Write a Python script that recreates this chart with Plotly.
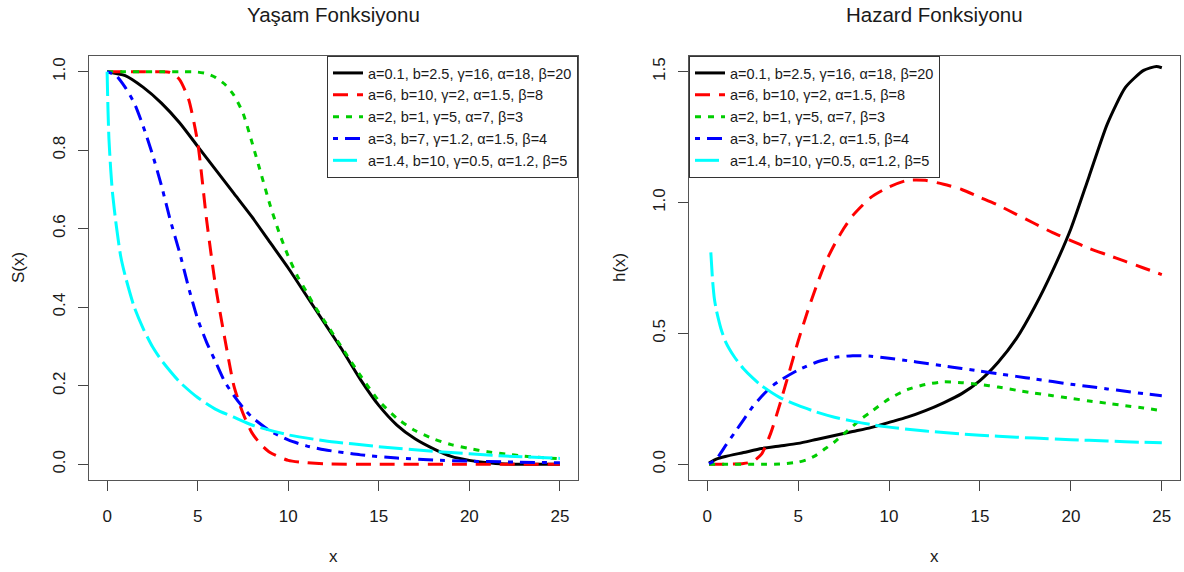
import plotly.graph_objects as go

# ---------------- data ----------------
names = [
    "a=0.1, b=2.5, γ=16, α=18, β=20",
    "a=6, b=10, γ=2, α=1.5, β=8",
    "a=2, b=1, γ=5, α=7, β=3",
    "a=3, b=7, γ=1.2, α=1.5, β=4",
    "a=1.4, b=10, γ=0.5, α=1.2, β=5",
]
colors = ["#000000", "#FF0000", "#00CD00", "#0000FF", "#00FFFF"]
dashes = ["solid", "15px,9px", "6px,7px", "5px,7px,15px,7px", "24px,6px"]

# Survival functions S(x)
s1_x = [0, 1, 2, 3, 4, 5, 6, 7, 8, 9, 10, 11, 12, 13, 14, 15, 16, 17, 18, 19, 20, 21, 22, 23, 25]
s1_y = [1.0, 0.99, 0.96, 0.92, 0.87, 0.81, 0.75, 0.69, 0.63, 0.565, 0.5, 0.43, 0.36, 0.29, 0.215,
        0.15, 0.1, 0.065, 0.04, 0.02, 0.01, 0.004, 0.001, 0.0, 0.0]

s2_x = [0, 1, 2, 3, 3.5, 4, 4.5, 5, 5.5, 6, 6.5, 7, 7.5, 8, 8.5, 9, 10, 11, 12, 15, 20, 25]
s2_y = [1.0, 1.0, 1.0, 1.0, 0.998, 0.98, 0.93, 0.82, 0.62, 0.45, 0.32, 0.2, 0.13, 0.08, 0.05,
        0.03, 0.01, 0.004, 0.001, 0.0, 0.0, 0.0]

s3_x = [0, 1, 2, 3, 4, 5, 5.5, 6, 6.5, 7, 7.5, 8, 8.5, 9, 9.5, 10, 10.5, 11, 11.5, 12, 13, 14, 15,
        16, 17, 18, 19, 20, 21, 22, 23, 24, 25]
s3_y = [1.0, 1.0, 1.0, 1.0, 1.0, 0.999, 0.995, 0.985, 0.968, 0.94, 0.895, 0.82, 0.74, 0.66, 0.59,
        0.53, 0.48, 0.44, 0.4, 0.365, 0.295, 0.225, 0.162, 0.117, 0.086, 0.065, 0.05, 0.04, 0.032,
        0.026, 0.021, 0.017, 0.014]

s4_x = [0, 0.5, 1, 1.5, 2, 2.5, 3, 3.5, 4, 4.5, 5, 5.5, 6, 6.5, 7, 7.5, 8, 9, 10, 11, 12, 14, 16,
        18, 20, 22, 25]
s4_y = [1.0, 0.99, 0.96, 0.92, 0.86, 0.79, 0.71, 0.62, 0.54, 0.45, 0.37, 0.31, 0.26, 0.21, 0.175,
        0.145, 0.12, 0.085, 0.062, 0.047, 0.037, 0.024, 0.016, 0.011, 0.008, 0.006, 0.004]

s5_x = [0, 0.05, 0.1, 0.2, 0.3, 0.5, 0.75, 1, 1.5, 2, 2.5, 3, 4, 5, 6, 7, 8, 10, 12, 15, 18, 20, 22, 25]
s5_y = [1.0, 0.9, 0.83, 0.75, 0.69, 0.61, 0.53, 0.48, 0.4, 0.345, 0.3, 0.265, 0.21, 0.17, 0.14,
        0.12, 0.1, 0.075, 0.06, 0.045, 0.033, 0.027, 0.021, 0.015]

# Hazard functions h(x)
h1_x = [0.1, 0.5, 1, 2, 3, 4, 5, 6, 7, 8, 9, 10, 11, 12, 13, 14, 15, 16, 17, 18, 19, 20, 21, 22,
        23, 24, 24.7, 25]
h1_y = [0.005, 0.02, 0.03, 0.045, 0.06, 0.07, 0.08, 0.095, 0.11, 0.125, 0.14, 0.16, 0.18, 0.205,
        0.235, 0.27, 0.32, 0.39, 0.48, 0.6, 0.74, 0.9, 1.1, 1.3, 1.44, 1.505, 1.52, 1.515]

h2_x = [0.1, 1, 2, 2.5, 3, 3.5, 4, 4.5, 5, 5.5, 6, 6.5, 7, 7.5, 8, 9, 10, 11, 12, 13, 14, 15, 16,
        17, 18, 19, 20, 21, 22, 23, 24, 25]
h2_y = [0.0, 0.0, 0.003, 0.01, 0.04, 0.12, 0.23, 0.35, 0.47, 0.58, 0.68, 0.77, 0.84, 0.9, 0.95,
        1.02, 1.06, 1.085, 1.085, 1.07, 1.05, 1.02, 0.99, 0.955, 0.92, 0.885, 0.855, 0.825, 0.8,
        0.775, 0.75, 0.725]

h3_x = [0.1, 3, 4, 5, 5.5, 6, 6.5, 7, 7.5, 8, 8.5, 9, 10, 11, 12, 13, 14, 15, 16, 17, 18, 19, 20,
        21, 22, 23, 24, 25]
h3_y = [0.0, 0.0, 0.001, 0.008, 0.018, 0.035, 0.06, 0.085, 0.115, 0.145, 0.175, 0.2, 0.25, 0.285,
        0.305, 0.315, 0.312, 0.305, 0.295, 0.283, 0.272, 0.262, 0.252, 0.242, 0.233, 0.224, 0.215,
        0.205]

h4_x = [0.1, 0.5, 1, 1.5, 2, 2.5, 3, 3.5, 4, 5, 6, 7, 8, 9, 10, 11, 12, 13, 14, 15, 16, 17, 18,
        19, 20, 21, 22, 23, 24, 25]
h4_y = [0.002, 0.02, 0.07, 0.12, 0.17, 0.22, 0.26, 0.295, 0.32, 0.36, 0.39, 0.408, 0.415, 0.413,
        0.405, 0.396, 0.386, 0.376, 0.366, 0.356, 0.346, 0.336, 0.326, 0.316, 0.306, 0.297, 0.288,
        0.279, 0.27, 0.262]

h5_x = [0.2, 0.3, 0.4, 0.5, 0.75, 1, 1.5, 2, 2.5, 3, 4, 5, 6, 7, 8, 9, 10, 12, 14, 16, 18, 20, 22,
        24, 25]
h5_y = [0.81, 0.7, 0.63, 0.59, 0.52, 0.47, 0.41, 0.365, 0.33, 0.3, 0.255, 0.225, 0.2, 0.18, 0.165,
        0.152, 0.142, 0.127, 0.116, 0.107, 0.1, 0.094, 0.089, 0.084, 0.082]

surv_x = [s1_x, s2_x, s3_x, s4_x, s5_x]
surv_y = [s1_y, s2_y, s3_y, s4_y, s5_y]
haz_x = [h1_x, h2_x, h3_x, h4_x, h5_x]
haz_y = [h1_y, h2_y, h3_y, h4_y, h5_y]

x_ticks = [0, 5, 10, 15, 20, 25]
s_ticks = [0.0, 0.2, 0.4, 0.6, 0.8, 1.0]
h_ticks = [0.0, 0.5, 1.0, 1.5]

title_left = "Yaşam Fonksiyonu"
title_right = "Hazard Fonksiyonu"

# ---------------- figure ----------------
W, H = 1184, 572
FONT = "Liberation Sans, Arial, sans-serif"

fig = go.Figure()

for i in range(5):
    fig.add_trace(go.Scatter(
        x=surv_x[i], y=surv_y[i], mode="lines", name=names[i],
        line=dict(color=colors[i], width=3, dash=dashes[i], shape="spline", smoothing=0.6),
        xaxis="x", yaxis="y", legend="legend", hoverinfo="skip"))
for i in range(5):
    fig.add_trace(go.Scatter(
        x=haz_x[i], y=haz_y[i], mode="lines", name=names[i],
        line=dict(color=colors[i], width=3, dash=dashes[i], shape="spline", smoothing=0.6),
        xaxis="x2", yaxis="y2", legend="legend2", hoverinfo="skip"))

def px_x(p):
    return p / W

def px_y(p):
    return 1 - p / H

left_dom = [px_x(89), px_x(578)]
right_dom = [px_x(689), px_x(1180)]
y_dom = [px_y(480), px_y(56)]

axis_common = dict(
    showline=True, mirror=True, linecolor="#555555", linewidth=1.3,
    ticks="outside", ticklen=10, tickwidth=1.2, tickcolor="#444444",
    showgrid=False, zeroline=False,
    tickfont=dict(family=FONT, size=17, color="#1a1a1a"),
)

legend_common = dict(
    bordercolor="#333333", borderwidth=1, bgcolor="white",
    font=dict(family=FONT, size=14.5, color="#1a1a1a"),
    tracegroupgap=0, itemwidth=30,
)

fig.update_layout(
    width=W, height=H,
    margin=dict(l=0, r=0, t=0, b=0),
    paper_bgcolor="white", plot_bgcolor="white",
    font=dict(family=FONT, color="#1a1a1a"),
    xaxis=dict(domain=left_dom, range=[-1, 26], tickvals=x_ticks, anchor="y",
               ticklabelstandoff=10, **axis_common),
    yaxis=dict(domain=y_dom, range=[-0.04, 1.04], tickvals=s_ticks, tickformat=".1f",
               tickangle=-90, anchor="x", ticklabelstandoff=6, **axis_common),
    xaxis2=dict(domain=right_dom, range=[-1, 26], tickvals=x_ticks, anchor="y2",
                ticklabelstandoff=10, **axis_common),
    yaxis2=dict(domain=y_dom, range=[-0.06, 1.56], tickvals=h_ticks, tickformat=".1f",
                tickangle=-90, anchor="x2", ticklabelstandoff=6, **axis_common),
    legend=dict(x=left_dom[1], xanchor="right", y=y_dom[1], yanchor="top", **legend_common),
    legend2=dict(x=right_dom[0], xanchor="left", y=y_dom[1], yanchor="top", **legend_common),
    showlegend=True,
)

ann_font = dict(family=FONT, size=17, color="#1a1a1a")
title_font = dict(family=FONT, size=20.5, color="#1a1a1a")
annotations = [
    dict(text=title_left, x=(89 + 578) / 2 / W, y=px_y(14), xref="paper", yref="paper",
         showarrow=False, font=title_font, xanchor="center", yanchor="middle"),
    dict(text=title_right, x=(689 + 1180) / 2 / W, y=px_y(14), xref="paper", yref="paper",
         showarrow=False, font=title_font, xanchor="center", yanchor="middle"),
    dict(text="x", x=(89 + 578) / 2 / W, y=px_y(556), xref="paper", yref="paper",
         showarrow=False, font=ann_font, xanchor="center", yanchor="middle"),
    dict(text="x", x=(689 + 1180) / 2 / W, y=px_y(556), xref="paper", yref="paper",
         showarrow=False, font=ann_font, xanchor="center", yanchor="middle"),
    dict(text="S(x)", x=px_x(18), y=px_y(268), xref="paper", yref="paper", textangle=-90,
         showarrow=False, font=ann_font, xanchor="center", yanchor="middle"),
    dict(text="h(x)", x=px_x(619), y=px_y(268), xref="paper", yref="paper", textangle=-90,
         showarrow=False, font=ann_font, xanchor="center", yanchor="middle"),
]
fig.update_layout(annotations=annotations)

fig.write_html("out.html")
